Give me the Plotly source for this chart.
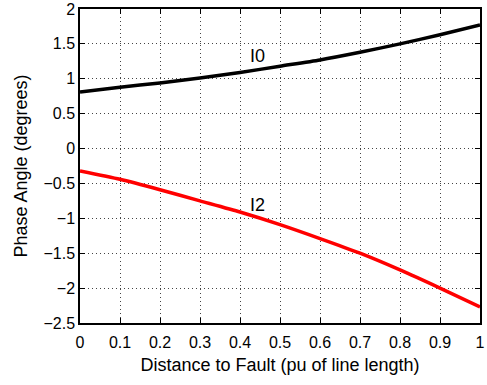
import plotly.graph_objects as go

# Distance along the line (per unit of line length)
distance = [0.0, 0.1, 0.2, 0.3, 0.4, 0.5, 0.6, 0.7, 0.8, 0.9, 1.0]
# Zero-sequence current phase angle (degrees)
i0_angle = [0.81, 0.88, 0.94, 1.01, 1.09, 1.18, 1.27, 1.38, 1.50, 1.63, 1.77]
# Negative-sequence current phase angle (degrees)
i2_angle = [-0.32, -0.44, -0.59, -0.75, -0.91, -1.09, -1.29, -1.50, -1.74, -2.00, -2.27]

x_ticks = [0, 0.1, 0.2, 0.3, 0.4, 0.5, 0.6, 0.7, 0.8, 0.9, 1]
y_ticks = [-2.5, -2, -1.5, -1, -0.5, 0, 0.5, 1, 1.5, 2]

family = "Liberation Sans, Arial, sans-serif"
tick_font = dict(family=family, size=16, color="black")
label_font = dict(family=family, size=18, color="black")

fig = go.Figure()
fig.add_trace(go.Scatter(x=distance, y=i0_angle, mode="lines",
                         line=dict(color="black", width=3.5, shape="spline", smoothing=0.6),
                         name="I0"))
fig.add_trace(go.Scatter(x=distance, y=i2_angle, mode="lines",
                         line=dict(color="#ff0000", width=3.5, shape="spline", smoothing=0.6),
                         name="I2"))

fig.add_annotation(x=0.444, y=1.33, text="I0", showarrow=False, font=label_font)
fig.add_annotation(x=0.444, y=-0.81, text="I2", showarrow=False, font=label_font)

axis_common = dict(
    showline=True, linecolor="black", linewidth=1.5, mirror="ticks",
    ticks="inside", ticklen=5, tickcolor="black", tickwidth=1,
    showgrid=True, gridcolor="#444444", griddash="1px,3px", gridwidth=1,
    zeroline=False, tickfont=tick_font, automargin=False,
)

fig.update_xaxes(range=[0, 1], tickvals=x_ticks, ticklabelstandoff=4,
                 title=dict(text="Distance to Fault (pu of line length)", font=label_font, standoff=8),
                 **axis_common)
fig.update_yaxes(range=[-2.5, 2], tickvals=y_ticks,
                 title=dict(text="Phase Angle (degrees)", font=label_font, standoff=11),
                 **axis_common)

fig.update_layout(
    width=487, height=385,
    margin=dict(l=80, r=7, t=9, b=62),
    paper_bgcolor="white", plot_bgcolor="white",
    showlegend=False, font=tick_font,
)

fig.write_html("out.html")
